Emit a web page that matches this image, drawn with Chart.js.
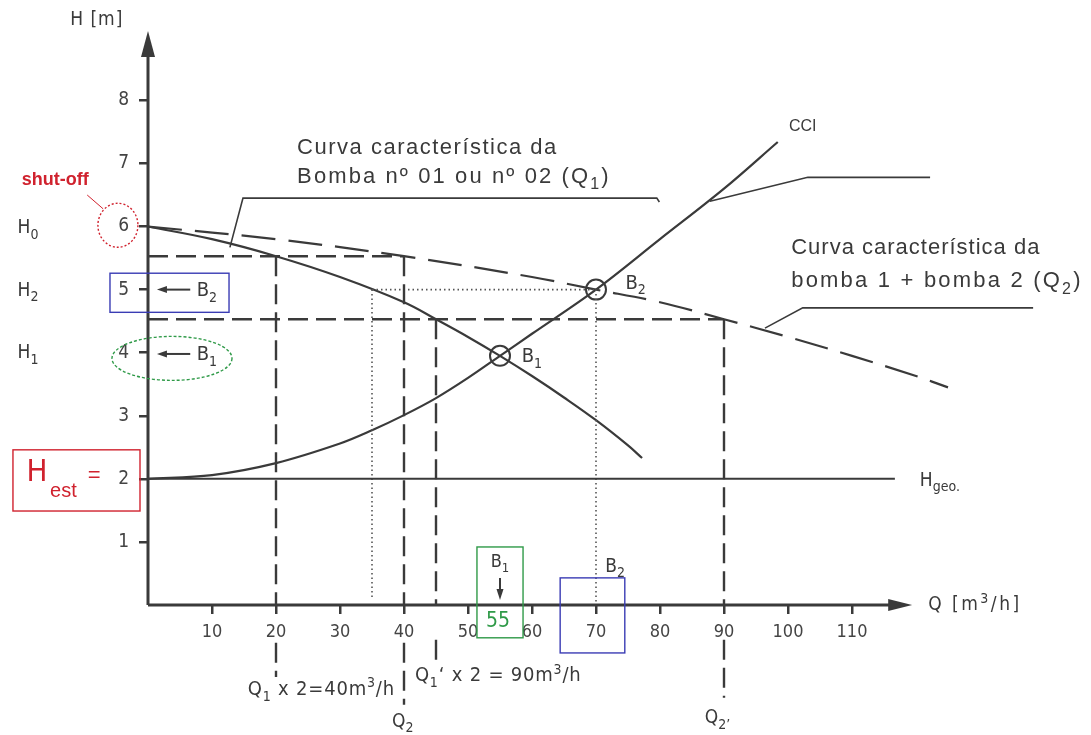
<!DOCTYPE html>
<html>
<head>
<meta charset="utf-8">
<script src="https://cdn.jsdelivr.net/npm/chart.js@4"></script>
<style>
  html, body { margin: 0; padding: 0; background: #ffffff; }
</style>
</head>
<body>
<canvas id="chart" width="1091" height="735"></canvas>
<script>
// Pump curves: H [m] against Q [m3/h]

// single pump (bomba 01 or 02), solid
const pumpQ = [0, 10, 20, 30, 40, 45, 50, 55, 60, 65, 70, 75, 77.2];
const pumpH = [6.0, 5.8, 5.53, 5.2, 4.8, 4.53, 4.25, 3.95, 3.63, 3.29, 2.93, 2.53, 2.33];

// both pumps in parallel, long dashes
const pairQ = [0, 20, 40, 60, 70, 80, 90, 100, 110, 120, 125];
const pairH = [6.0, 5.8, 5.53, 5.2, 5.0, 4.8, 4.53, 4.25, 3.95, 3.63, 3.45];

// system curve CCI
const cciQ = [0, 10, 20, 30, 35, 40, 45, 50, 55, 60, 70, 80, 90, 98.4];
const cciH = [2.0, 2.06, 2.25, 2.56, 2.77, 3.01, 3.28, 3.6, 3.95, 4.3, 5.0, 5.8, 6.6, 7.34];

// static head H geo
const hgeoQ = [0, 116.7];
const hgeoH = [2, 2];

// operating points B1, B2
const opQ = [55, 70];
const opH = [3.95, 5.0];

// dashed construction lines (null = break)
const guideQ = [0, 40, null, 20, 20, null, 20, 20, null, 40, 40, null, 40, 40, null,
                0, 90, null, 45, 45, null, 45, 45, null, 90, 90, null, 90, 90];
const guideH = [5.53, 5.53, null, 5.53, 0, null, -0.6, -1.14, null, 5.53, 0, null, -0.6, -1.58, null,
                4.53, 4.53, null, 4.53, 0, null, -0.55, -0.87, null, 4.53, 0, null, -0.55, -1.47];

// dotted lines through B2
const dotQ = [35, 70, null, 35, 35, null, 70, 70];
const dotH = [5.0, 5.0, null, 5.0, 0.12, null, 5.0, 0.05];

// axis ticks
const xTicks = [10, 20, 30, 40, 50, 60, 70, 80, 90, 100, 110];
const yTicks = [1, 2, 3, 4, 5, 6, 7, 8];

const INK = '#3a3a3a';
const RED = '#d0222e';
const BLUE = '#3a3cb4';
const GREEN = '#2f9a48';
const DIN = '"DejaVu Sans Condensed", "Liberation Sans Narrow", "DejaVu Sans", sans-serif';
const HEL = '"Liberation Sans", Arial, sans-serif';
const NARROW = '"Liberation Sans Narrow", "DejaVu Sans Condensed", sans-serif';

function toXY(qs, hs) {
  return qs.map(function(q, i) { return {x: q, y: hs[i]}; });
}

// text labels: parts are [text, 0 normal | 1 sub | 2 sup]
const labels = [
  {parts: [['H [m]', 0]], q: -8.0, h: 9.27, size: 19, font: DIN, ls: 1, align: 'center'},
  {parts: [['shut-off', 0]], q: -14.5, h: 6.74, size: 18, font: HEL, weight: 'bold', color: RED, align: 'center'},
  {parts: [['H', 0], ['0', 1]], q: -18.75, h: 5.97, size: 19, font: DIN, align: 'center'},
  {parts: [['H', 0], ['2', 1]], q: -18.75, h: 4.98, size: 19, font: DIN, align: 'center'},
  {parts: [['H', 0], ['1', 1]], q: -18.75, h: 3.99, size: 19, font: DIN, align: 'center'},
  {parts: [['B', 0], ['2', 1]], q: 7.6, h: 4.98, size: 20, font: DIN, align: 'left'},
  {parts: [['B', 0], ['1', 1]], q: 7.6, h: 3.96, size: 20, font: DIN, align: 'left'},
  {parts: [['H', 0]], q: -19.0, h: 2.09, size: 31, font: NARROW, color: RED, align: 'left'},
  {parts: [['est', 0]], q: -15.3, h: 1.8, size: 20, font: HEL, color: RED, align: 'left'},
  {parts: [['=', 0]], q: -9.4, h: 2.05, size: 22, font: HEL, color: RED, align: 'left'},
  {parts: [['Curva característica da', 0]], q: 23.3, h: 7.24, size: 22, font: HEL, ls: 1.5, align: 'left'},
  {parts: [['Bomba nº 01 ou nº 02 (Q', 0], ['1', 1], [')', 0]], q: 23.3, h: 6.78, size: 22, font: HEL, ls: 2.1, align: 'left'},
  {parts: [['CCI', 0]], q: 102.3, h: 7.58, size: 16, font: HEL, align: 'center'},
  {parts: [['Curva característica da', 0]], q: 100.5, h: 5.66, size: 22, font: HEL, ls: 1.0, align: 'left'},
  {parts: [['bomba 1 + bomba 2 (Q', 0], ['2', 1], [')', 0]], q: 100.5, h: 5.13, size: 22, font: HEL, ls: 2.2, align: 'left'},
  {parts: [['B', 0], ['1', 1]], q: 58.4, h: 3.93, size: 20, font: DIN, align: 'left'},
  {parts: [['B', 0], ['2', 1]], q: 74.6, h: 5.1, size: 20, font: DIN, align: 'left'},
  {parts: [['H', 0], ['geo.', 1]], q: 120.6, h: 1.97, size: 19, font: DIN, align: 'left'},
  {parts: [['Q [m', 0], ['3', 2], ['/h]', 0]], q: 121.9, h: 0.0, size: 19, font: DIN, ls: 2.5, align: 'left'},
  {parts: [['B', 0], ['1', 1]], q: 55, h: 0.67, size: 18, font: DIN, align: 'center'},
  {parts: [['55', 0]], q: 54.7, h: -0.27, size: 21, font: DIN, color: GREEN, align: 'center'},
  {parts: [['B', 0], ['2', 1]], q: 73, h: 0.6, size: 19, font: DIN, align: 'center'},
  {parts: [['Q', 0], ['1', 1], [' x 2=40m', 0], ['3', 2], ['/h', 0]], q: 15.6, h: -1.35, size: 20, font: DIN, ls: 0.8, align: 'left'},
  {parts: [['Q', 0], ['1', 1], ['‘ x 2 = 90m', 0], ['3', 2], ['/h', 0]], q: 41.7, h: -1.13, size: 20, font: DIN, ls: 0.8, align: 'left'},
  {parts: [['Q', 0], ['2', 1]], q: 39.8, h: -1.85, size: 19, font: DIN, align: 'center'},
  {parts: [['Q', 0], ['2’', 1]], q: 89, h: -1.8, size: 19, font: DIN, align: 'center'}
];

// leader lines from curve to caption (Q, H)
const leaders = [
  [[12.8, 5.67], [14.84, 6.45], [79.5, 6.45], [79.9, 6.39]],
  [[87.8, 6.40], [103.1, 6.78], [122.2, 6.78]],
  [[96.4, 4.39], [102.3, 4.71], [138.3, 4.71]]
];

// coloured frames [q1, h1, q2, h2, colour]
const frames = [
  [-5.94, 5.26, 12.66, 4.64, BLUE],
  [-21.1, 2.46, -1.25, 1.49, RED],
  [51.4, 0.92, 58.6, -0.52, GREEN],
  [64.4, 0.43, 74.5, -0.76, BLUE]
];

function drawParts(ctx, lb, x, y) {
  const size = lb.size;
  const weight = lb.weight || 'normal';
  const fontFor = function(m) { return weight + ' ' + (m ? Math.round(size * 0.72) : size) + 'px ' + lb.font; };
  ctx.letterSpacing = (lb.ls || 0) + 'px';
  let total = 0;
  lb.parts.forEach(function(p) { ctx.font = fontFor(p[1]); total += ctx.measureText(p[0]).width; });
  let cx = lb.align === 'center' ? x - total / 2 : x;
  ctx.fillStyle = lb.color || INK;
  ctx.textAlign = 'left';
  ctx.textBaseline = 'middle';
  lb.parts.forEach(function(p) {
    ctx.font = fontFor(p[1]);
    const dy = p[1] === 1 ? size * 0.35 : (p[1] === 2 ? -size * 0.32 : 0);
    ctx.fillText(p[0], cx, y + dy);
    cx += ctx.measureText(p[0]).width;
  });
  ctx.letterSpacing = '0px';
}

const decorations = {
  id: 'decorations',
  afterDraw(chart) {
    const ctx = chart.ctx;
    const xs = chart.scales.x, ys = chart.scales.y;
    const P = function(q, h) { return [xs.getPixelForValue(q), ys.getPixelForValue(h)]; };
    ctx.save();

    // axes with arrows
    const o = P(0, 0);
    const xEnd = P(119.4, 0)[0];
    ctx.strokeStyle = INK;
    ctx.fillStyle = INK;
    ctx.lineWidth = 3;
    ctx.beginPath();
    ctx.moveTo(o[0], o[1]); ctx.lineTo(xEnd - 10, o[1]);
    ctx.moveTo(o[0], o[1]); ctx.lineTo(o[0], ys.top + 10);
    ctx.stroke();
    ctx.beginPath();
    ctx.moveTo(xEnd, o[1]); ctx.lineTo(xEnd - 24, o[1] - 6); ctx.lineTo(xEnd - 24, o[1] + 6);
    ctx.closePath(); ctx.fill();
    ctx.beginPath();
    ctx.moveTo(o[0], ys.top); ctx.lineTo(o[0] - 7, ys.top + 26); ctx.lineTo(o[0] + 7, ys.top + 26);
    ctx.closePath(); ctx.fill();

    // leaders
    ctx.lineWidth = 1.6;
    leaders.forEach(function(l) {
      ctx.beginPath();
      l.forEach(function(pt, i) {
        const p = P(pt[0], pt[1]);
        if (i === 0) ctx.moveTo(p[0], p[1]); else ctx.lineTo(p[0], p[1]);
      });
      ctx.stroke();
    });

    // small arrows to the H axis and to the Q axis
    ctx.lineWidth = 2;
    [5.0, 3.98].forEach(function(h) {
      const a = P(1.4, h), b = P(6.6, h);
      ctx.beginPath(); ctx.moveTo(a[0] + 6, a[1]); ctx.lineTo(b[0], b[1]); ctx.stroke();
      ctx.beginPath(); ctx.moveTo(a[0], a[1]); ctx.lineTo(a[0] + 10, a[1] - 3.5); ctx.lineTo(a[0] + 10, a[1] + 3.5);
      ctx.closePath(); ctx.fill();
    });
    const d1 = P(55, 0.43), d2 = P(55, 0.08);
    ctx.beginPath(); ctx.moveTo(d1[0], d1[1]); ctx.lineTo(d2[0], d2[1] - 6); ctx.stroke();
    ctx.beginPath(); ctx.moveTo(d2[0], d2[1]); ctx.lineTo(d2[0] - 3.5, d2[1] - 11); ctx.lineTo(d2[0] + 3.5, d2[1] - 11);
    ctx.closePath(); ctx.fill();

    // coloured frames
    ctx.lineWidth = 1.4;
    frames.forEach(function(f) {
      const a = P(f[0], f[1]), b = P(f[2], f[3]);
      ctx.strokeStyle = f[4];
      ctx.strokeRect(a[0], a[1], b[0] - a[0], b[1] - a[1]);
    });

    // green dashed ellipse round H1
    const e = P(3.75, 3.91);
    ctx.strokeStyle = GREEN;
    ctx.setLineDash([3, 2]);
    ctx.beginPath(); ctx.ellipse(e[0], e[1], 60, 22, 0, 0, Math.PI * 2); ctx.stroke();

    // red dashed circle round shut-off head
    const c = P(-4.7, 6.02);
    ctx.strokeStyle = RED;
    ctx.setLineDash([2, 2]);
    ctx.beginPath(); ctx.ellipse(c[0], c[1], 20, 22, 0, 0, Math.PI * 2); ctx.stroke();
    ctx.setLineDash([]);
    const r1 = P(-9.5, 6.5), r2 = P(-7.0, 6.28);
    ctx.lineWidth = 1;
    ctx.beginPath(); ctx.moveTo(r1[0], r1[1]); ctx.lineTo(r2[0], r2[1]); ctx.stroke();

    // texts
    labels.forEach(function(lb) {
      const p = P(lb.q, lb.h);
      drawParts(ctx, lb, p[0], p[1]);
    });

    ctx.restore();
  }
};

const canvas = document.getElementById('chart');

const chart = new Chart(canvas, {
  type: 'scatter',
  data: {
    datasets: [
      {
        label: 'Hgeo',
        data: toXY(hgeoQ, hgeoH),
        showLine: true, pointRadius: 0,
        borderColor: INK, borderWidth: 2,
        clip: false
      },
      {
        label: 'guides',
        data: toXY(guideQ, guideH),
        showLine: true, pointRadius: 0, spanGaps: false,
        borderColor: INK, borderWidth: 2.4, borderDash: [20, 8],
        clip: false
      },
      {
        label: 'dotted',
        data: toXY(dotQ, dotH),
        showLine: true, pointRadius: 0, spanGaps: false,
        borderColor: '#555555', borderWidth: 1.6, borderDash: [1.5, 3],
        clip: false
      },
      {
        label: 'Bomba 01 ou 02 (Q1)',
        data: toXY(pumpQ, pumpH),
        showLine: true, pointRadius: 0,
        borderColor: INK, borderWidth: 2.2,
        tension: 0.4,
        clip: false
      },
      {
        label: 'bomba 1 + bomba 2 (Q2)',
        data: toXY(pairQ, pairH),
        showLine: true, pointRadius: 0,
        borderColor: INK, borderWidth: 2.2, borderDash: [34, 13],
        tension: 0.35,
        clip: false
      },
      {
        label: 'CCI',
        data: toXY(cciQ, cciH),
        showLine: true, pointRadius: 0,
        borderColor: INK, borderWidth: 2.2,
        tension: 0.35,
        clip: false
      },
      {
        label: 'B1, B2',
        data: toXY(opQ, opH),
        showLine: false,
        pointStyle: 'circle', pointRadius: 10,
        pointBorderColor: INK, pointBorderWidth: 2,
        pointBackgroundColor: 'rgba(0,0,0,0)',
        clip: false
      }
    ]
  },
  options: {
    responsive: false,
    animation: false,
    events: [],
    layout: { padding: { left: 88, right: 111, top: 31, bottom: 80 } },
    plugins: {
      legend: { display: false },
      tooltip: { enabled: false }
    },
    scales: {
      x: {
        type: 'linear',
        min: 0, max: 130,
        afterBuildTicks: function(s) { s.ticks = xTicks.map(function(v) { return {value: v}; }); },
        afterFit: function(s) { s.height = 50; },
        border: { display: false },
        grid: { drawOnChartArea: false, drawTicks: true, tickLength: 9, color: INK, lineWidth: 2.5 },
        ticks: { color: '#444444', padding: 8, maxRotation: 0, autoSkip: false, font: { family: DIN, size: 18 } }
      },
      y: {
        type: 'linear',
        min: 0, max: 9.1,
        afterBuildTicks: function(s) { s.ticks = yTicks.map(function(v) { return {value: v}; }); },
        afterFit: function(s) { s.width = 60; },
        border: { display: false },
        grid: { drawOnChartArea: false, drawTicks: true, tickLength: 9, color: INK, lineWidth: 2.5 },
        ticks: { color: '#444444', padding: 10, autoSkip: false, font: { family: DIN, size: 19 } }
      }
    }
  },
  plugins: [decorations]
});
</script>
</body>
</html>
